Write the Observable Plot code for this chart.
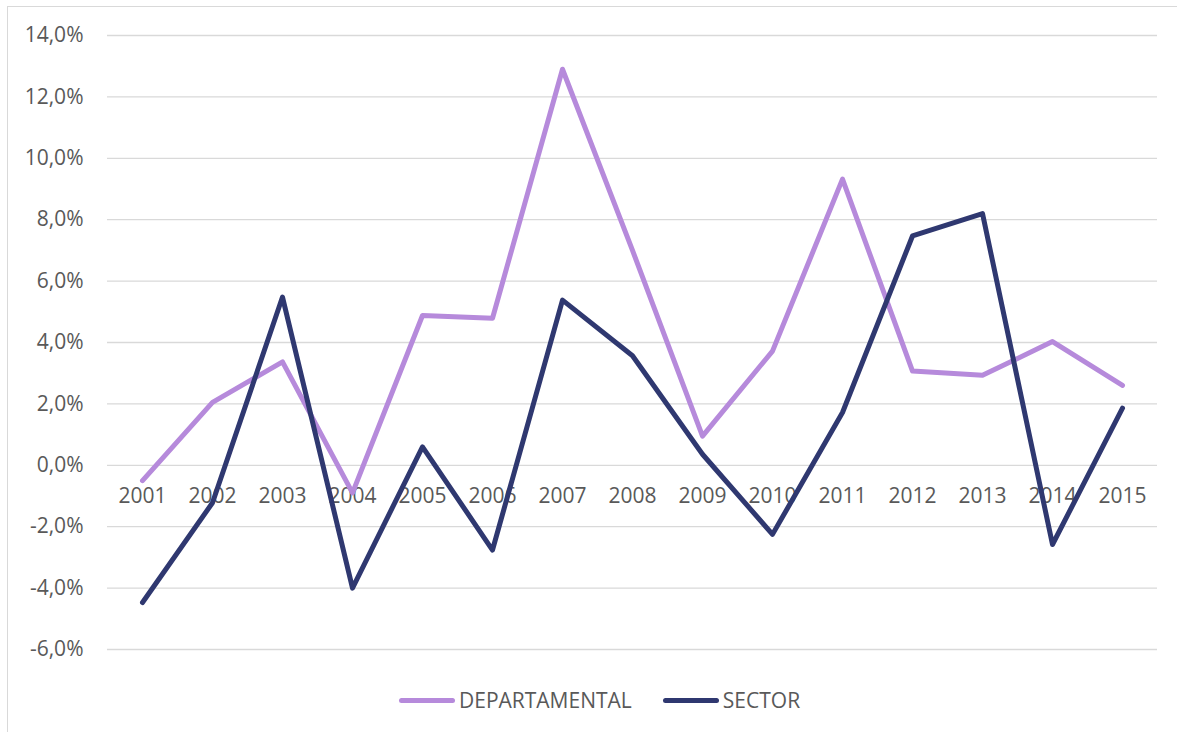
<!DOCTYPE html>
<html>
<head>
<meta charset="utf-8">
<script src="https://cdn.jsdelivr.net/npm/d3@7"></script>
<script src="https://cdn.jsdelivr.net/npm/@observablehq/plot@0.6"></script>
<style>
  html, body { margin: 0; padding: 0; background: #fff; overflow: hidden; }
  #wrap { position: relative; width: 1177px; height: 732px; font-family: "Open Sans", sans-serif; }
  #frame { position: absolute; left: 7px; top: 6px; width: 1200px; height: 760px; border: 1px solid #d9d9d9; box-sizing: border-box; }
  #chart { position: absolute; left: 0; top: 0; }
  #legend { position: absolute; left: 399px; top: 686px; display: flex; align-items: center; font-size: 21px; color: #595959; }
  .sw { width: 56px; height: 5px; border-radius: 3px; margin-right: 4px; }
  .item { display: flex; align-items: center; }
</style>
</head>
<body>
<div id="wrap">
  <div id="frame"></div>
  <div id="chart"></div>
  <div id="legend"></div>
</div>
<script>
const years = ["2001","2002","2003","2004","2005","2006","2007","2008","2009","2010","2011","2012","2013","2014","2015"];
const departamental = [-0.5, 2.05, 3.37, -0.9, 4.88, 4.79, 12.9, 7.0, 0.95, 3.72, 9.32, 3.07, 2.93, 4.03, 2.6];
const sector = [-4.47, -1.22, 5.48, -4.0, 0.6, -2.76, 5.38, 3.57, 0.36, -2.25, 1.72, 7.47, 8.2, -2.58, 1.86];
const yTicks = [-6, -4, -2, 0, 2, 4, 6, 8, 10, 12, 14];
const seriesNames = ["DEPARTAMENTAL", "SECTOR"];
const seriesColors = ["#b68adb", "#2f3870"];

const rows = [];
years.forEach((y, i) => {
  rows.push({year: y, value: departamental[i], series: seriesNames[0]});
  rows.push({year: y, value: sector[i], series: seriesNames[1]});
});

const fmt = d => d.toFixed(1).replace(".", ",") + "%";

const chart = Plot.plot({
  width: 1177,
  height: 680,
  marginLeft: 107,
  marginRight: 20,
  marginTop: 35,
  marginBottom: 31,
  style: { fontFamily: "'Open Sans', sans-serif", fontSize: "21px", color: "#595959", background: "transparent" },
  x: { type: "point", domain: years, padding: 0.5, axis: null },
  y: { domain: [-6, 14], axis: null },
  color: { domain: seriesNames, range: seriesColors },
  marks: [
    Plot.ruleY(yTicks, { stroke: "#d9d9d9", strokeWidth: 1.3 }),
    Plot.axisY({ ticks: yTicks, tickFormat: fmt, tickSize: 0, tickPadding: 24, fill: "#595959", fontSize: 21, label: null }),
    Plot.text(years, { x: d => d, y: () => 0, dy: 31, text: d => d, fill: "#595959", fontSize: 21 }),
    Plot.line(rows.filter(r => r.series === seriesNames[0]), { x: "year", y: "value", stroke: seriesColors[0], strokeWidth: 5, strokeLinejoin: "round", strokeLinecap: "round" }),
    Plot.line(rows.filter(r => r.series === seriesNames[1]), { x: "year", y: "value", stroke: seriesColors[1], strokeWidth: 5, strokeLinejoin: "round", strokeLinecap: "round" })
  ]
});
document.getElementById("chart").appendChild(chart);

const legend = document.getElementById("legend");
seriesNames.forEach((name, i) => {
  const item = document.createElement("div");
  item.className = "item";
  if (i > 0) item.style.marginLeft = "31px";
  const sw = document.createElement("div");
  sw.className = "sw";
  sw.style.background = seriesColors[i];
  const t = document.createElement("span");
  t.textContent = name;
  item.appendChild(sw);
  item.appendChild(t);
  legend.appendChild(item);
});
</script>
</body>
</html>
